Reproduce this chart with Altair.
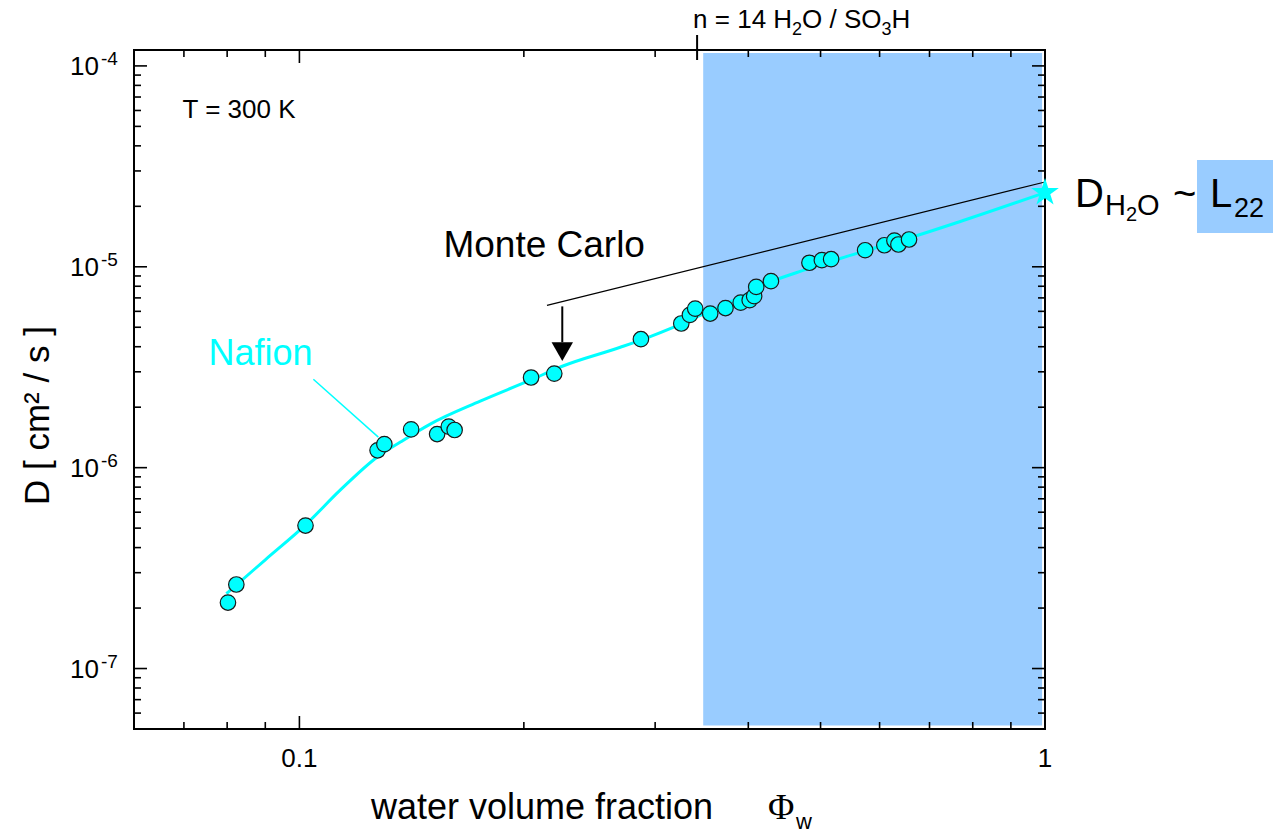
import altair as alt
import pandas as pd

# ---------------- data ----------------
phi_w = [0.0802, 0.0823, 0.1019, 0.1273, 0.1300, 0.1412, 0.1530, 0.1586, 0.1615,
         0.2045, 0.2197, 0.2871, 0.3252, 0.3340, 0.3395, 0.3556, 0.3728, 0.3907,
         0.4017, 0.4073, 0.4099, 0.4290, 0.4831, 0.5020, 0.5166, 0.5738, 0.6089,
         0.6281, 0.6359, 0.6571]
D_cm2s = [2.13e-7, 2.62e-7, 5.15e-7, 1.22e-6, 1.31e-6, 1.55e-6, 1.47e-6, 1.60e-6, 1.54e-6,
          2.81e-6, 2.94e-6, 4.36e-6, 5.22e-6, 5.76e-6, 6.19e-6, 5.85e-6, 6.23e-6, 6.63e-6,
          6.82e-6, 7.14e-6, 7.94e-6, 8.48e-6, 1.047e-5, 1.079e-5, 1.091e-5, 1.209e-5, 1.280e-5,
          1.351e-5, 1.291e-5, 1.367e-5]

fit_phi = [0.0798, 0.0900, 0.1019, 0.1135, 0.1272, 0.1366, 0.1498, 0.1748, 0.2040, 0.2252,
           0.2694, 0.2937, 0.3172, 0.3447, 0.3901, 0.4372, 0.4737, 0.5311, 0.6008, 0.6736,
           0.7766, 1.0]
fit_D = [2.358e-7, 3.478e-7, 5.19e-7, 7.745e-7, 1.130e-6, 1.341e-6, 1.648e-6, 2.144e-6, 2.725e-6,
         3.198e-6, 3.976e-6, 4.457e-6, 4.996e-6, 5.732e-6, 7.041e-6, 8.65e-6, 9.59e-6, 1.100e-5,
         1.262e-5, 1.431e-5, 1.699e-5, 2.34e-5]

region_phi = [0.348, 0.991]
region_D = [5.21e-8, 1.16e-4]

star_phi = [1.0]
star_D = [2.34e-5]

mc_line_phi = [0.2148, 1.0]
mc_line_D = [6.42e-6, 2.644e-5]
arrow_phi = [0.2252, 0.2252]
arrow_D = [6.35e-6, 4.21e-6]
arrow_head_D = [3.78e-6]

nafion_leader_phi = [0.1044, 0.1276]
nafion_leader_D = [2.756e-6, 1.42e-6]

n14_phi = [0.3415]

x_major = [0.1, 1.0]
x_labels = ["0.1", "1"]
x_minor = [0.07, 0.08, 0.09, 0.2, 0.3, 0.4, 0.5, 0.6, 0.7, 0.8, 0.9]
y_major = [1e-7, 1e-6, 1e-5, 1e-4]
y_mantissa = ["10", "10", "10", "10"]
y_exponents = ["-7", "-6", "-5", "-4"]
y_minor = [6e-8, 7e-8, 8e-8, 9e-8,
           2e-7, 3e-7, 4e-7, 5e-7, 6e-7, 7e-7, 8e-7, 9e-7,
           2e-6, 3e-6, 4e-6, 5e-6, 6e-6, 7e-6, 8e-6, 9e-6,
           2e-5, 3e-5, 4e-5, 5e-5, 6e-5, 7e-5, 8e-5, 9e-5]

# ---------------- styling ----------------
W, H = 911, 679
FONT = "Liberation Sans"
CYAN = "#00ffff"
BLUE = "#99ccff"
STAR = ("M0,-1L0.225,-0.309L0.951,-0.309L0.363,0.118L0.588,0.809L0,0.382"
        "L-0.588,0.809L-0.363,0.118L-0.951,-0.309L-0.225,-0.309Z")

xs = alt.Scale(type="log", domain=[0.06, 1.0], nice=False)
ys = alt.Scale(type="log", domain=[5e-8, 1.2e-4], nice=False)


def X(f="x"):
    return alt.X(f"{f}:Q", scale=xs, axis=None)


def Y(f="y"):
    return alt.Y(f"{f}:Q", scale=ys, axis=None)


def dtext(text, x, y, size, color="black", dx=0, dy=0, font=FONT, align="left"):
    df = pd.DataFrame({"x": [x], "y": [y], "t": [text]})
    return alt.Chart(df).mark_text(align=align, baseline="alphabetic", dx=dx, dy=dy,
                                   fontSize=size, font=font, color=color).encode(
        x=X(), y=Y(), text="t:N")


def ptext(text, px, py, size, color="black", font=FONT, angle=0, baseline="alphabetic"):
    df = pd.DataFrame({"t": [text]})
    return alt.Chart(df).mark_text(align="left", baseline=baseline, fontSize=size, font=font,
                                   color=color, angle=angle).encode(
        x=alt.value(px), y=alt.value(py), text="t:N")


layers = []

# shaded region
layers.append(alt.Chart(pd.DataFrame({"x": [region_phi[0]], "x2": [region_phi[1]],
                                      "y": [region_D[0]], "y2": [region_D[1]]}))
              .mark_rect(color=BLUE).encode(x=X(), x2="x2:Q", y=Y(), y2="y2:Q"))

# fitted curve
layers.append(alt.Chart(pd.DataFrame({"x": fit_phi, "y": fit_D}))
              .mark_line(color=CYAN, strokeWidth=3, interpolate="monotone")
              .encode(x=X(), y=Y()))

# Monte Carlo line and arrow
layers.append(alt.Chart(pd.DataFrame({"x": mc_line_phi, "y": mc_line_D}))
              .mark_line(color="black", strokeWidth=1.2).encode(x=X(), y=Y()))
layers.append(alt.Chart(pd.DataFrame({"x": arrow_phi, "y": arrow_D}))
              .mark_line(color="black", strokeWidth=2).encode(x=X(), y=Y()))
layers.append(alt.Chart(pd.DataFrame({"x": [arrow_phi[0]], "y": arrow_head_D}))
              .mark_point(shape="triangle-down", filled=True, size=460, color="black", opacity=1)
              .encode(x=X(), y=Y()))

# Nafion leader
layers.append(alt.Chart(pd.DataFrame({"x": nafion_leader_phi, "y": nafion_leader_D}))
              .mark_line(color=CYAN, strokeWidth=1.5).encode(x=X(), y=Y()))

# data points
layers.append(alt.Chart(pd.DataFrame({"x": phi_w, "y": D_cm2s}))
              .mark_circle(size=240, color=CYAN, stroke="#1a1a1a", strokeWidth=1.2, opacity=1)
              .encode(x=X(), y=Y()))

# star at pure water
layers.append(alt.Chart(pd.DataFrame({"x": star_phi, "y": star_D}))
              .mark_point(shape=STAR, filled=True, size=850, color=CYAN, opacity=1)
              .encode(x=X(), y=Y()))

# ticks (inward) on all four sides
def xticks(vals, length):
    df = pd.DataFrame({"x": vals})
    bottom = alt.Chart(df).mark_rule(color="black", strokeWidth=1.6).encode(
        x=X(), y=alt.value(H), y2=alt.value(H - length))
    top = alt.Chart(df).mark_rule(color="black", strokeWidth=1.6).encode(
        x=X(), y=alt.value(0), y2=alt.value(length))
    return [bottom, top]


def yticks(vals, length):
    df = pd.DataFrame({"y": vals})
    left = alt.Chart(df).mark_rule(color="black", strokeWidth=1.6).encode(
        y=Y(), x=alt.value(0), x2=alt.value(length))
    right = alt.Chart(df).mark_rule(color="black", strokeWidth=1.6).encode(
        y=Y(), x=alt.value(W), x2=alt.value(W - length))
    return [left, right]


layers += xticks(x_major, 13) + xticks(x_minor, 7) + yticks(y_major, 13) + yticks(y_minor, 7)

# n = 14 marker tick above the frame
layers.append(alt.Chart(pd.DataFrame({"x": n14_phi})).mark_rule(color="black", strokeWidth=2)
              .encode(x=X(), y=alt.value(-15), y2=alt.value(10)))

# tick labels
layers.append(alt.Chart(pd.DataFrame({"x": x_major, "t": x_labels}))
              .mark_text(align="center", baseline="top", fontSize=26, font=FONT, color="black")
              .encode(x=X(), y=alt.value(H + 17), text="t:N"))
layers.append(alt.Chart(pd.DataFrame({"y": y_major, "t": y_mantissa}))
              .mark_text(align="right", baseline="middle", dy=1, fontSize=26, font=FONT,
                         color="black")
              .encode(x=alt.value(-35), y=Y(), text="t:N"))
layers.append(alt.Chart(pd.DataFrame({"y": y_major, "t": y_exponents}))
              .mark_text(align="left", baseline="alphabetic", dy=-1, fontSize=19, font=FONT,
                         color="black")
              .encode(x=alt.value(-33), y=Y(), text="t:N"))

# annotations inside the plot
layers.append(dtext("T = 300 K", 0.0697, 5.52e-5, 26))
layers.append(dtext("Monte Carlo", 0.156, 1.125e-5, 37))
layers.append(dtext("Nafion", 0.0755, 3.25e-6, 36, color=CYAN))

# n = 14 H2O / SO3H  (above the frame)
top_y = 1.2e-4
n_parts = [("n = 14 H", -4, -22, 26), ("2", 95, -15, 18), ("O / SO", 105, -22, 26),
           ("3", 184.5, -15, 18), ("H", 194.5, -22, 26)]
for t, dx, dy, fs in n_parts:
    layers.append(dtext(t, n14_phi[0], top_y, fs, dx=dx, dy=dy))

# D_H2O ~ L22 on the right
layers.append(alt.Chart(pd.DataFrame({"t": ["box"]})).mark_rect(color=BLUE).encode(
    x=alt.value(1063), x2=alt.value(1145), y=alt.value(110), y2=alt.value(183)))
for t, px, py, fs in [("D", 941, 157, 40), ("H", 971, 165, 29), ("2", 992, 171, 20),
                      ("O", 1003, 165, 29), ("~", 1039, 157, 40), ("L", 1076, 157, 40),
                      ("22", 1100, 167, 27)]:
    layers.append(ptext(t, px, py, fs))

# axis titles
layers.append(ptext("water volume fraction", 237, 769, 36))
layers.append(ptext("\u03a6", 634, 769, 36, font="Liberation Serif"))
layers.append(ptext("w", 662, 779, 22))
layers.append(ptext("D  [ cm\u00b2 / s ]", -96, 455, 35, angle=270, baseline="middle"))

chart = (alt.layer(*layers)
         .properties(width=W, height=H,
                     autosize=alt.AutoSizeParams(type="none"),
                     padding={"left": 134, "top": 50, "right": 228, "bottom": 104},
                     background="white")
         .configure_view(stroke="black", strokeWidth=2))

chart.save("out.html", embed_options={"renderer": "svg", "actions": False})
